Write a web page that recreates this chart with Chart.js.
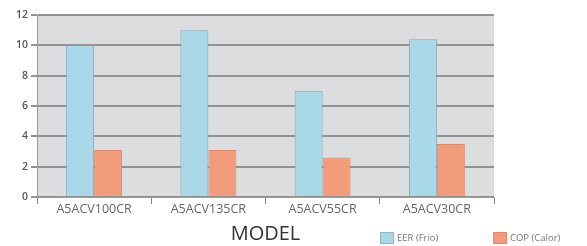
<!DOCTYPE html>
<html><head><meta charset="utf-8">
<script src="https://cdn.jsdelivr.net/npm/chart.js@4"></script>
<style>
html,body{margin:0;padding:0;background:#fff;}
#wrap{position:relative;width:587px;height:246px;}
canvas{position:absolute;left:0;top:0;}
.lg{position:absolute;top:232px;height:11px;font-family:'Open Sans',sans-serif;font-size:9.5px;color:#777;display:flex;align-items:center;}
.lg span.b{display:inline-block;width:12px;height:10px;margin-right:3px;}
</style></head>
<body><div id="wrap"><canvas id="c" width="587" height="246"></canvas>
<div class="lg" style="left:380px"><span class="b" style="background:#a9d9e9;border:1px solid #8cb8c8"></span>EER (Frio)</div>
<div class="lg" style="left:493px"><span class="b" style="background:#f39c7b;border:1px solid #e08a6a"></span>COP (Calor)</div>
</div>
<script>
const categories = ['A5ACV100CR','A5ACV135CR','A5ACV55CR','A5ACV30CR'];
const eer = [10.0, 11.0, 7.0, 10.4];
const cop = [3.1, 3.1, 2.6, 3.5];
const yTicks = [0,2,4,6,8,10,12];

const bgPlugin = {
  id:'bg',
  beforeDraw(chart){
    const {ctx, chartArea:a} = chart;
    ctx.save(); ctx.fillStyle='#dcddde';
    ctx.fillRect(a.left,a.top,a.right-a.left,a.bottom-a.top);
    ctx.restore();
  }
};

new Chart(document.getElementById('c'),{
  type:'bar',
  data:{labels:categories,datasets:[
    {label:'EER (Frio)',data:eer,backgroundColor:'#a9d9e9',borderColor:'#7ea9b9',borderWidth:1,barPercentage:1,categoryPercentage:0.49},
    {label:'COP (Calor)',data:cop,backgroundColor:'#f39c7b',borderColor:'#e3896a',borderWidth:1,barPercentage:1,categoryPercentage:0.49}
  ]},
  options:{
    responsive:false,animation:false,
    layout:{padding:{left:0,right:93,top:15,bottom:0}},
    plugins:{legend:{display:false},tooltip:{enabled:false}},
    scales:{
      y:{min:0,max:12,
        afterBuildTicks(s){s.ticks=yTicks.map(v=>({value:v}));},
        afterFit(s){s.width=37;},
        ticks:{color:'#555',font:{family:'Open Sans',size:10.5,weight:'600'},padding:3},
        grid:{color:'#929292',lineWidth:2,tickLength:6,tickColor:'#929292'},
        border:{color:'#9a9a9a',width:1}
      },
      x:{
        afterFit(s){s.height=49;},
        ticks:{color:'#666',font:{family:'Open Sans',size:12.5},padding:-2},
        grid:{drawOnChartArea:false,tickLength:7,color:'#888',lineWidth:1},
        border:{color:'#9a9a9a',width:1},
        title:{display:true,text:'MODEL',color:'#333',font:{family:'Open Sans',size:20},padding:{top:4,bottom:0}}
      }
    }
  },
  plugins:[bgPlugin]
});
</script></body></html>
